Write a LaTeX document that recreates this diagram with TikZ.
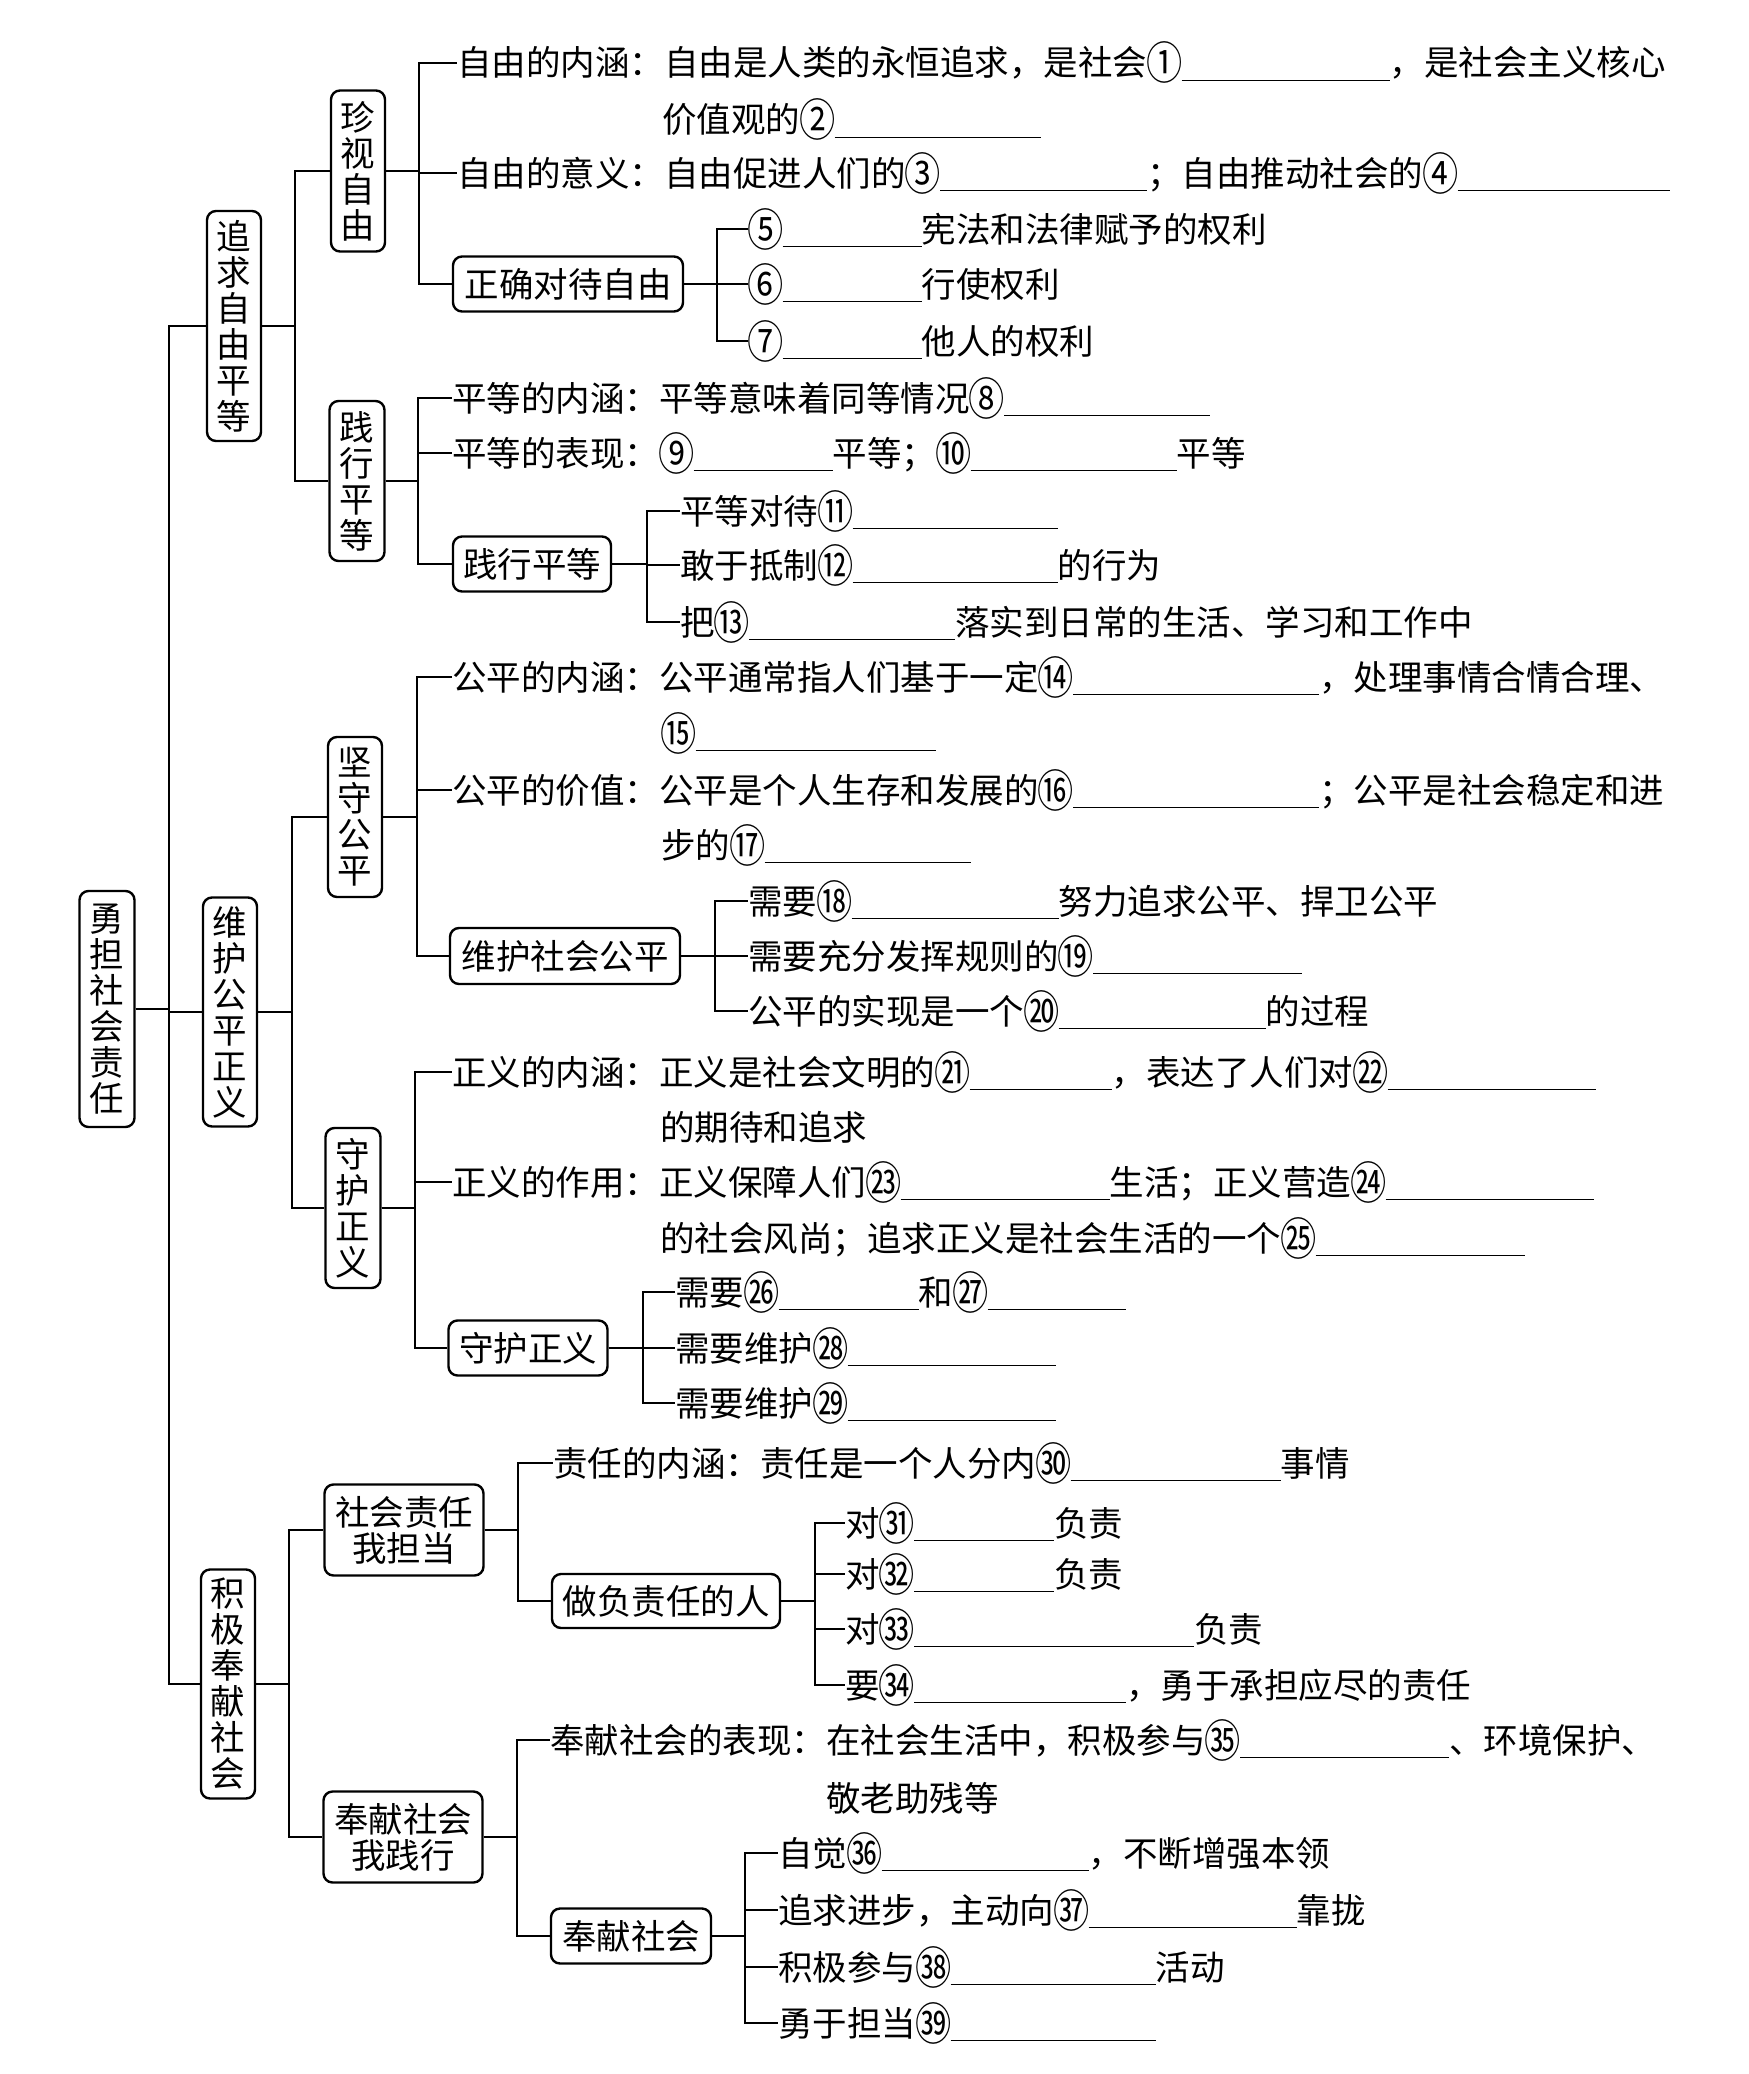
\documentclass[tikz,border=0pt]{standalone}
\usepackage{fontspec}
\newfontfamily\cjk{Noto Sans CJK SC}
\newcommand\blk[1]{\rule[-5pt]{#1pt}{1.3pt}}
\newcommand\cn[1]{\makebox[34.5pt]{\raisebox{-4pt}{\scalebox{1.05}[1.3]{#1}}}}
\begin{document}
\begin{tikzpicture}[x=1pt,y=-1pt,
 txt/.style={anchor=west, inner sep=0pt, text height=29pt, text depth=3pt, font=\cjk\fontsize{34.5pt}{36pt}\selectfont},
 box/.style={draw, line width=2.4pt, rounded corners=9pt, inner sep=0pt, align=center, font=\cjk\fontsize{34.5pt}{36pt}\selectfont},
 conn/.style={line width=1.8pt},
]
\useasboundingbox[fill=white] (0,0) rectangle (1748,2074);

% ---------- boxes ----------
\node[box, minimum width=55pt, minimum height=236pt] (R) at (107,1009) {勇\\担\\社\\会\\责\\任};

\node[box, minimum width=54pt, minimum height=230pt] (A) at (234,326) {追\\求\\自\\由\\平\\等};
\node[box, minimum width=54pt, minimum height=229pt] (B) at (230,1012) {维\\护\\公\\平\\正\\义};
\node[box, minimum width=54pt, minimum height=229pt] (C) at (228,1684) {积\\极\\奉\\献\\社\\会};

\node[box, minimum width=54pt, minimum height=161pt] (A1) at (358,171) {珍\\视\\自\\由};
\node[box, minimum width=55pt, minimum height=160pt] (A2) at (357,481) {践\\行\\平\\等};
\node[box, minimum width=54pt, minimum height=160pt] (B1) at (355,817) {坚\\守\\公\\平};
\node[box, minimum width=55pt, minimum height=160pt] (B2) at (353,1208) {守\\护\\正\\义};
\node[box, minimum width=159pt, minimum height=91pt] (C1) at (404,1530) {社会责任\\我担当};
\node[box, minimum width=159pt, minimum height=91pt] (C2) at (403,1837) {奉献社会\\我践行};

\node[box, minimum width=230pt, minimum height=55pt] (A13) at (568,284) {正确对待自由};
\node[box, minimum width=158pt, minimum height=55pt] (A23) at (532,564) {践行平等};
\node[box, minimum width=230pt, minimum height=56pt] (B13) at (565,956) {维护社会公平};
\node[box, minimum width=159pt, minimum height=55pt] (B23) at (528,1348) {守护正义};
\node[box, minimum width=228pt, minimum height=54pt] (C12) at (666,1601) {做负责任的人};
\node[box, minimum width=160pt, minimum height=55pt] (C22) at (631,1936) {奉献社会};

% ---------- texts ----------
\node[txt] (a1) at (457,63) {自由的内涵：自由是人类的永恒追求，是社会\cn{①}\blk{208}，是社会主义核心};
\node[txt] (a1b) at (662,120) {价值观的\cn{②}\blk{206}};
\node[txt] (a2) at (457,173) {自由的意义：自由促进人们的\cn{③}\blk{207}；自由推动社会的\cn{④}\blk{212}};
\node[txt] (a31) at (748,229) {\cn{⑤}\blk{139}宪法和法律赋予的权利};
\node[txt] (a32) at (748,284) {\cn{⑥}\blk{139}行使权利};
\node[txt] (a33) at (748,341) {\cn{⑦}\blk{139}他人的权利};

\node[txt] (b1) at (452,398) {平等的内涵：平等意味着同等情况\cn{⑧}\blk{206}};
\node[txt] (b2) at (452,453) {平等的表现：\cn{⑨}\blk{139}平等；\cn{⑩}\blk{206}平等};
\node[txt] (b31) at (680,511) {平等对待\cn{⑪}\blk{205}};
\node[txt] (b32) at (680,565) {敢于抵制\cn{⑫}\blk{205}的行为};
\node[txt] (b33) at (680,622) {把\cn{⑬}\blk{206}落实到日常的生活、学习和工作中};

\node[txt] (c1) at (452,677) {公平的内涵：公平通常指人们基于一定\cn{⑭}\blk{246}，处理事情合情合理、};
\node[txt] (c1b) at (661,733) {\cn{⑮}\blk{240}};
\node[txt] (c2) at (452,790) {公平的价值：公平是个人生存和发展的\cn{⑯}\blk{246}；公平是社会稳定和进};
\node[txt] (c2b) at (661,845) {步的\cn{⑰}\blk{206}};
\node[txt] (c31) at (748,901) {需要\cn{⑱}\blk{207}努力追求公平、捍卫公平};
\node[txt] (c32) at (748,956) {需要充分发挥规则的\cn{⑲}\blk{209}};
\node[txt] (c33) at (748,1011) {公平的实现是一个\cn{⑳}\blk{207}的过程};

\node[txt] (d1) at (452,1072) {正义的内涵：正义是社会文明的\cn{㉑}\blk{142}，表达了人们对\cn{㉒}\blk{208}};
\node[txt] (d1b) at (660,1127) {的期待和追求};
\node[txt] (d2) at (452,1182) {正义的作用：正义保障人们\cn{㉓}\blk{209}生活；正义营造\cn{㉔}\blk{208}};
\node[txt] (d2b) at (660,1238) {的社会风尚；追求正义是社会生活的一个\cn{㉕}\blk{209}};
\node[txt] (d31) at (675,1292) {需要\cn{㉖}\blk{140}和\cn{㉗}\blk{138}};
\node[txt] (d32) at (675,1348) {需要维护\cn{㉘}\blk{208}};
\node[txt] (d33) at (675,1403) {需要维护\cn{㉙}\blk{208}};

\node[txt] (e1) at (553,1463) {责任的内涵：责任是一个人分内\cn{㉚}\blk{210}事情};
\node[txt] (e21) at (845,1523) {对\cn{㉛}\blk{140}负责};
\node[txt] (e22) at (845,1574) {对\cn{㉜}\blk{140}负责};
\node[txt] (e23) at (845,1629) {对\cn{㉝}\blk{280}负责};
\node[txt] (e24) at (845,1685) {要\cn{㉞}\blk{212}，勇于承担应尽的责任};

\node[txt] (f1) at (550,1740) {奉献社会的表现：在社会生活中，积极参与\cn{㉟}\blk{209}、环境保护、};
\node[txt] (f1b) at (826,1798) {敬老助残等};
\node[txt] (f21) at (778,1853) {自觉\cn{㊱}\blk{207}，不断增强本领};
\node[txt] (f22) at (778,1910) {追求进步，主动向\cn{㊲}\blk{208}靠拢};
\node[txt] (f23) at (778,1967) {积极参与\cn{㊳}\blk{205}活动};
\node[txt] (f24) at (778,2023) {勇于担当\cn{㊴}\blk{205}};

% ---------- bars ----------
\coordinate (Rbar) at (169,0);
\coordinate (Abar) at (295,0);
\coordinate (Bbar) at (292,0);
\coordinate (Cbar) at (289,0);
\coordinate (A1bar) at (419,0);
\coordinate (A2bar) at (418,0);
\coordinate (B1bar) at (417,0);
\coordinate (B2bar) at (415,0);
\coordinate (C1bar) at (518,0);
\coordinate (C2bar) at (517,0);
\coordinate (A13bar) at (717,0);
\coordinate (A23bar) at (647,0);
\coordinate (B13bar) at (715,0);
\coordinate (B23bar) at (643,0);
\coordinate (C12bar) at (815,0);
\coordinate (C22bar) at (745,0);

% ---------- connectors ----------
\foreach \p/\b/\cs in {R/Rbar/{A,B,C}, A/Abar/{A1,A2}, B/Bbar/{B1,B2}, C/Cbar/{C1,C2},
  A1/A1bar/{a1,a2,A13}, A2/A2bar/{b1,b2,A23}, B1/B1bar/{c1,c2,B13}, B2/B2bar/{d1,d2,B23},
  C1/C1bar/{e1,C12}, C2/C2bar/{f1,C22},
  A13/A13bar/{a31,a32,a33}, A23/A23bar/{b31,b32,b33}, B13/B13bar/{c31,c32,c33},
  B23/B23bar/{d31,d32,d33}, C12/C12bar/{e21,e22,e23,e24}, C22/C22bar/{f21,f22,f23,f24}}
  {\foreach \c in \cs {\draw[conn] (\p.east) -- (\p.east -| \b) |- (\c.west);}}
\end{tikzpicture}
\end{document}
